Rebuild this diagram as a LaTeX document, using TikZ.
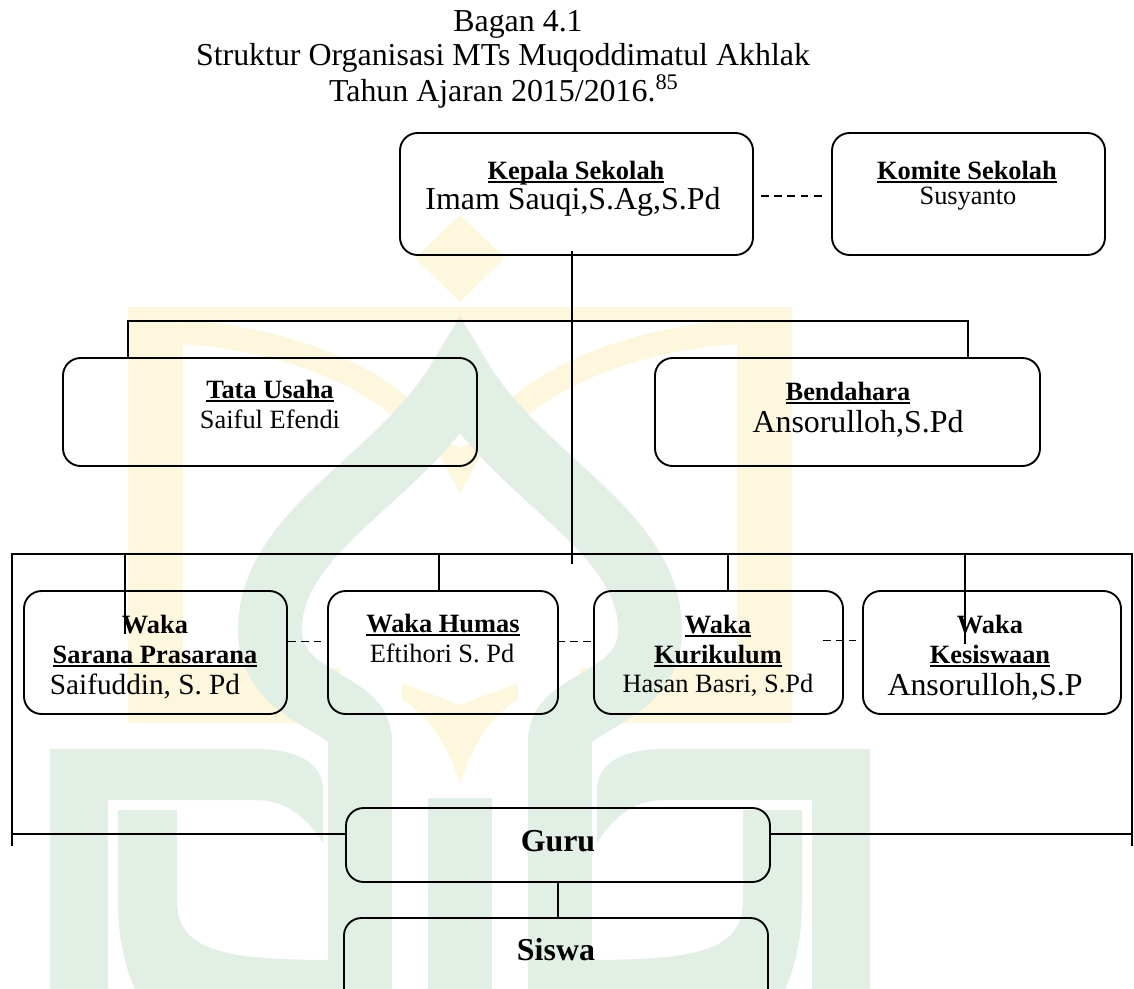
\documentclass[tikz,border=0pt]{standalone}
\usepackage{fontspec}
\setmainfont{Liberation Serif}
\usetikzlibrary{fit,calc}
\definecolor{wmgreen}{HTML}{E1EFE5}
\definecolor{wmyellow}{HTML}{FDF7DE}
\newcommand\myul[1]{\setbox0\hbox{#1}\rlap{\rule[-1.7pt]{\wd0}{1pt}}\box0}
\newcommand\szA{\fontsize{12}{14}\selectfont}
\newcommand\szB{\fontsize{14.5}{17}\selectfont}
\newcommand\szC{\fontsize{13.3}{16}\selectfont}
\newcommand\wmhalf{%
  \fill[wmyellow] (128,307) rectangle (183,723);
  \fill[wmyellow] (128,668) rectangle (340,723);
  \draw[wmyellow, line width=11pt] (183,332) .. controls (300,340) and (390,385) .. (425,432);
  \fill[wmgreen] (50,1000) -- (50,749) -- (257,749) .. controls (300,749) and (323,765) .. (323,790)
     -- (323,843) .. controls (305,815) and (285,800) .. (255,800) -- (108,800) -- (108,1000) -- cycle;
  \fill[wmgreen] (118,810) -- (177,810) -- (177,900) .. controls (177,950) and (220,960) .. (334,960)
     -- (334,1000) -- (140,1000) .. controls (125,970) and (118,940) .. (118,900) -- cycle;
}
\tikzset{
  box/.style={draw, line width=0.85pt, rounded corners=8pt, inner sep=0pt},
  lbl/.style={anchor=base, inner sep=0pt, font=\szA},
  lblb/.style={anchor=base, inner sep=0pt, font=\szA\bfseries},
  lblbig/.style={anchor=base, inner sep=0pt, font=\szB},
  lblmid/.style={anchor=base, inner sep=0pt, font=\szC},
  lblguru/.style={anchor=base, inner sep=0pt, font=\szB\bfseries},
  ttl/.style={anchor=base, inner sep=0pt, font=\szB},
  link/.style={line width=0.75pt},
  dlink/.style={line width=0.75pt, dash pattern=on 3.6pt off 2.4pt},
}
\begin{document}
\begin{tikzpicture}[x=0.4545pt, y=-0.4545pt]
\useasboundingbox (0,0) rectangle (1134,989);
\clip (0,0) rectangle (1134,989);
% ---------- watermark ----------
\fill[wmyellow] (128,307) rectangle (778,322);
\wmhalf
\begin{scope}[shift={(920,0)}, xscale=-1]
  \wmhalf
\end{scope}
\fill[wmyellow] (415,258) -- (460,215) -- (505,258) -- (460,302) -- cycle;
\fill[wmyellow] (425,430) -- (460,448) -- (495,430) -- (460,493) -- cycle;
\fill[wmyellow] (402,683) -- (460,705) -- (518,683) -- (518,700) .. controls (490,715) and (470,750) .. (460,785)
   .. controls (450,750) and (430,715) .. (402,700) -- cycle;
\draw[wmgreen, line width=29pt, line join=miter, miter limit=10]
  (360,1000) -- (360,740) .. controls (360,700) and (270,700) .. (270,630)
  .. controls (270,530) and (400,480) .. (460,378)
  .. controls (520,480) and (650,530) .. (650,630)
  .. controls (650,700) and (560,700) .. (560,740) -- (560,1000);
\fill[wmgreen] (428,798) rectangle (492,1000);
% ---------- title ----------
\node[ttl] (t1) at (518,31) {Bagan 4.1};
\node[ttl] (t2) at (503,65) {Struktur Organisasi MTs Muqoddimatul Akhlak};
\node[ttl] (t3) at (504,101) {Tahun Ajaran 2015/2016.\textsuperscript{85}};
% ---------- boxes ----------
\node[box, fit={(400,133) (753,255)}] (kep) {};
\node[box, fit={(832,133) (1105,255)}] (kom) {};
\node[box, fit={(63,358) (477,466)}] (tu) {};
\node[box, fit={(655,358) (1040,466)}] (bd) {};
\node[box, fit={(24,591) (287,714)}] (sar) {};
\node[box, fit={(328,591) (558,714)}] (hum) {};
\node[box, fit={(594,591) (843,714)}] (kur) {};
\node[box, fit={(863,591) (1121,714)}] (kes) {};
\node[box, fit={(346,808) (770,882)}] (guru) {};
\node[box, fit={(344,918) (768,1030)}] (sis) {};
% ---------- texts ----------
\node[lblb] (kepT) at (576,179) {\myul{Kepala Sekolah}};
\node[lblbig] (kepN) at (573,209) {Imam Sauqi,S.Ag,S.Pd};
\node[lblb] (komT) at (967,179) {\myul{Komite Sekolah}};
\node[lbl] (komN) at (968,204) {Susyanto};
\node[lblb] (tuT) at (270,398) {\myul{Tata Usaha}};
\node[lbl] (tuN) at (270,428) {Saiful Efendi};
\node[lblb] (bdT) at (848,400) {\myul{Bendahara}};
\node[lblbig] (bdN) at (858,432) {Ansorulloh,S.Pd};
\node[lblb] (sarT1) at (155,633) {Waka};
\node[lblb] (sarT2) at (155,663) {\myul{Sarana Prasarana}};
\node[lblmid] (sarN) at (145,694) {Saifuddin, S. Pd};
\node[lblb] (humT) at (443,632) {\myul{Waka Humas}};
\node[lbl] (humN) at (442,662) {Eftihori S. Pd};
\node[lblb] (kurT1) at (718,633) {\myul{Waka}};
\node[lblb] (kurT2) at (718,663) {\myul{Kurikulum}};
\node[lbl] (kurN) at (718,692) {Hasan Basri, S.Pd};
\node[lblb] (kesT1) at (990,633) {Waka};
\node[lblb] (kesT2) at (990,663) {\myul{Kesiswaan}};
\node[lblbig] (kesN) at (985,695) {Ansorulloh,S.P};
\node[lblguru] (guruT) at (558,851) {Guru};
\node[lblguru] (sisT) at (556,960) {Siswa};
% ---------- connectors ----------
\coordinate (m0) at (572,564);
\draw[link] ($(kep.south -| m0)+(0,-5)$) -- (m0);
\draw[dlink] ($(kep.east)+(7,2)$) -- ($(kom.west)+(-9,2)$);
\coordinate (u1) at (128,321);
\coordinate (u2) at (968,321);
\draw[link] (tu.north -| u1) -- (u1) -- (u2) -- (bd.north -| u2);
\coordinate (f1) at (12,846);
\coordinate (f2) at (12,554);
\coordinate (f3) at (1132,554);
\coordinate (f4) at (1132,846);
\draw[link] (f1) -- (f2) -- (f3) -- (f4);
\coordinate (g1) at (12,834);
\coordinate (g2) at (1132,834);
\draw[link] (g1) -- (guru.west |- g1);
\draw[link] (g2) -- (guru.east |- g2);
\coordinate (d1) at (125,554);
\coordinate (d2) at (439,554);
\coordinate (d3) at (728,554);
\coordinate (d4) at (965,554);
\draw[link] (d1) -- ($(sar.north -| d1)+(0,44)$);
\draw[link] (d2) -- (hum.north -| d2);
\draw[link] (d3) -- (kur.north -| d3);
\draw[link] (d4) -- ($(kes.north -| d4)+(0,54)$);
\draw[dlink] ($(sar.east)+(0,-11)$) -- ($(hum.west)+(-6,-11)$);
\draw[dlink] ($(hum.east)+(-2,-11)$) -- ($(kur.west)+(0,-11)$);
\draw[dlink] ($(kur.east)+(-21,-12)$) -- ($(kes.west)+(-6,-12)$);
\draw[link] (guru.south) -- (guru.south |- sis.north);
\end{tikzpicture}
\end{document}
